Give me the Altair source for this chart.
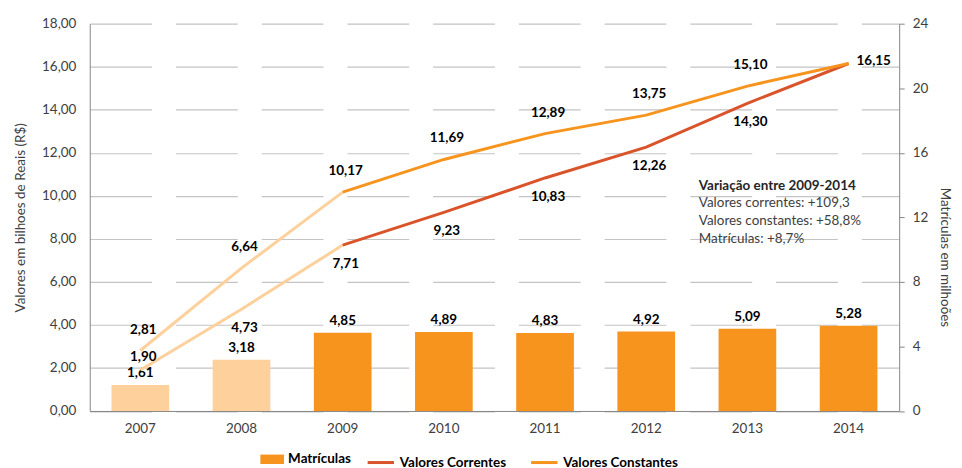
import altair as alt
import pandas as pd

years = ["2007", "2008", "2009", "2010", "2011", "2012", "2013", "2014"]
matriculas = [1.61, 3.18, 4.85, 4.89, 4.83, 4.92, 5.09, 5.28]
valores_correntes = [1.90, 4.73, 7.71, 9.23, 10.83, 12.26, 14.30, 16.15]
valores_constantes = [2.81, 6.64, 10.17, 11.69, 12.89, 13.75, 15.10, 16.15]
pale_years = ["2007", "2008"]
annotation_title = "Variação entre 2009-2014"
annotation_lines = ["Valores correntes: +109,3", "Valores constantes: +58,8%", "Matrículas: +8,7%"]

ORANGE = "#F7941D"
RED = "#D9542B"
PALE = "#FDD09C"
FONT = "Lato"
W, H = 812, 388.5

bars_df = pd.DataFrame({
    "year": years,
    "value": matriculas,
    "fase": ["pale" if y in pale_years else "Matrículas" for y in years],
})
lines_df = pd.concat([
    pd.DataFrame({"year": years, "value": valores_correntes, "serie": "Valores Correntes"}),
    pd.DataFrame({"year": years, "value": valores_constantes, "serie": "Valores Constantes"}),
])
lines_df["yn"] = lines_df["year"].astype(int)

x_enc = alt.X("year:N", scale=alt.Scale(paddingInner=0.43, paddingOuter=0.215),
              axis=alt.Axis(title=None, labelAngle=0, ticks=False, grid=False, labelPadding=11,
                            domainColor="#868686", labelColor="#404040", labelFontSize=13.5,
                            labelFont=FONT))

label_expr = "replace(format(datum.value, '.2f'), '.', ',')"

# ---------- right axis: bars ----------
y_right = alt.Y("value:Q", scale=alt.Scale(domain=[0, 24], nice=False),
                axis=alt.Axis(orient="right", title="Matrículas em milhoões", values=[0, 4, 8, 12, 16, 20, 24],
                              grid=False, ticks=True, tickSize=5, tickColor="#868686", domainColor="#868686",
                              labelPadding=8, labelColor="#404040", labelFontSize=13.5, labelFont=FONT,
                              titleFont=FONT, titleFontSize=13.5, titleFontWeight="normal", titleColor="#404040",
                              titlePadding=10, titleY=234))
bars = alt.Chart(bars_df).mark_bar().encode(
    x=x_enc,
    y=y_right,
    fill=alt.Fill("fase:N",
                  scale=alt.Scale(domain=["Matrículas", "pale"], range=[ORANGE, PALE]),
                  legend=alt.Legend(values=["Matrículas"], orient="none", legendX=171, legendY=425,
                                    title=None, symbolType="M-1,-0.4H1V0.4H-1Z", symbolSize=560,
                                    symbolStrokeWidth=0, labelFont=FONT, labelFontSize=13.5,
                                    labelFontWeight="bold", labelColor="#000000", labelOffset=4)),
)
bar_labels = alt.Chart(bars_df).mark_text(dy=-12, font=FONT, fontSize=13.5, fontWeight="bold",
                                          color="#000000", baseline="middle").transform_calculate(
    label=label_expr).encode(
    x=x_enc,
    y=y_right,
    text="label:N",
)
right_layer = alt.layer(bars, bar_labels)

# ---------- left axis: lines ----------
y_left = alt.Y("value:Q", scale=alt.Scale(domain=[0, 18], nice=False),
               axis=alt.Axis(orient="left", title="Valores em bilhoes de Reais (R$)",
                             values=list(range(0, 19, 2)), labelExpr=label_expr,
                             grid=True, gridColor="#C4C4C4", gridWidth=1.2, gridDash=[62, 24],
                             ticks=False, domainColor="#868686", labelPadding=14,
                             labelColor="#404040", labelFontSize=13.5, labelFont=FONT,
                             titleFont=FONT, titleFontSize=13.5, titleFontWeight="normal",
                             titleColor="#404040", titlePadding=14))

pale_lines = alt.Chart(lines_df).mark_line(strokeWidth=3, color=PALE).transform_filter(
    "datum.yn <= 2009").encode(x=x_enc, y=y_left, detail="serie:N")

main_lines = alt.Chart(lines_df).mark_line(strokeWidth=3).transform_filter(
    "datum.yn >= 2009").encode(
    x=x_enc, y=y_left,
    stroke=alt.Stroke("serie:N",
                      scale=alt.Scale(domain=["Valores Correntes", "Valores Constantes"], range=[RED, ORANGE]),
                      legend=alt.Legend(orient="none", legendX=277, legendY=425, direction="horizontal",
                                        title=None, symbolType="stroke", symbolSize=700,
                                        symbolStrokeWidth=3, labelFont=FONT, labelFontSize=13.5,
                                        labelFontWeight="bold", labelColor="#000000", labelOffset=4,
                                        columnPadding=18)),
)

def line_labels(filt, **kw):
    return alt.Chart(lines_df).mark_text(font=FONT, fontSize=13.5, fontWeight="bold", color="#000000",
                                         baseline="middle", **kw).transform_filter(filt).transform_calculate(
        label=label_expr).encode(x=x_enc, y=y_left, text="label:N")

lab_const = line_labels("datum.serie == 'Valores Constantes' && datum.yn < 2014", dy=-21, dx=3)
lab_corr = line_labels("datum.serie == 'Valores Correntes' && datum.yn > 2007 && datum.yn < 2014", dy=19, dx=3)
lab_corr07 = line_labels("datum.serie == 'Valores Correntes' && datum.yn == 2007", dy=-13, dx=3)
lab_2014 = line_labels("datum.serie == 'Valores Constantes' && datum.yn == 2014", dx=8, dy=-2, align="left")

left_layer = alt.layer(pale_lines, main_lines, lab_const, lab_corr, lab_corr07, lab_2014)

# ---------- annotation ----------
ann_title = alt.Chart(pd.DataFrame({"t": [annotation_title]})).mark_text(
    font=FONT, fontSize=13.5, fontWeight="bold", color="#262626", align="left", baseline="middle").encode(
    x=alt.value(611), y=alt.value(162.5), text="t:N")
ann_body = alt.Chart(pd.DataFrame({"t": ["x"]})).mark_text(
    font=FONT, fontSize=13.5, color="#404040", align="left", baseline="top", lineHeight=18.5).encode(
    x=alt.value(611), y=alt.value(172.5), text=alt.value(annotation_lines))

chart = alt.layer(right_layer, left_layer, ann_title, ann_body).resolve_scale(
    y="independent"
).properties(
    width=W, height=H,
    padding={"left": 5, "top": 8, "right": 2, "bottom": 0},
).configure_view(stroke=None)

chart.save("out.html", embed_options={"renderer": "svg", "actions": False})
